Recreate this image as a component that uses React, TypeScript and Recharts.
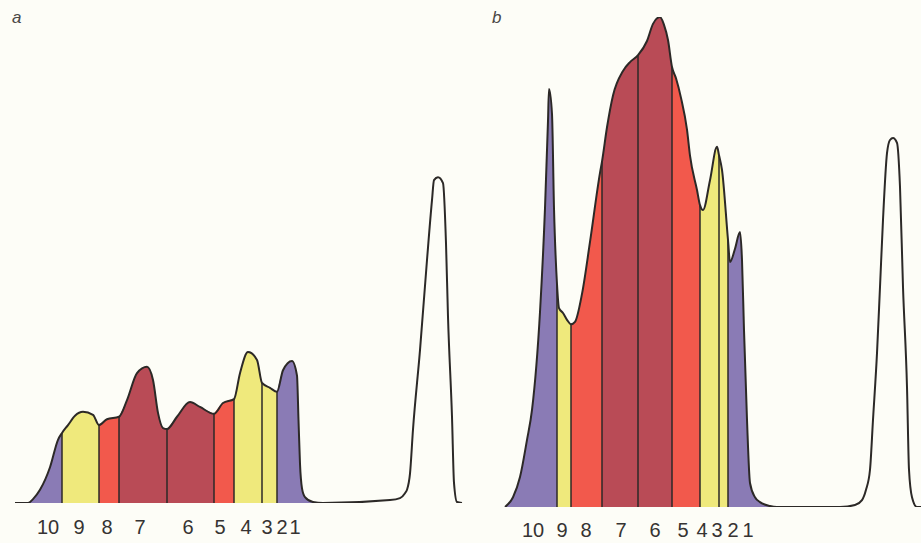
import { ComposedChart, Area, Line, XAxis, YAxis, ReferenceLine } from 'recharts';

// elution profiles (x: elution volume, y: relative absorbance)
const volumeA = [5, 18, 23, 30, 40, 48, 52, 58, 65, 73, 83, 89, 97, 109, 117, 127, 137, 143, 148, 153, 157, 167, 180, 190, 204, 213, 224, 230, 238, 247, 252, 260, 267, 273, 282, 287, 288.5, 290, 292, 295, 303, 313, 380, 390, 395, 397, 400, 403, 410, 417, 422, 424, 428, 433, 436, 438, 442, 444, 447, 452];
const absorbanceA = [0, 0, 0.8, 2.7, 7.3, 12.9, 14.3, 15.9, 17.8, 18.6, 18.0, 15.9, 17.1, 17.6, 21.0, 26.5, 27.8, 25.1, 18.4, 15.3, 15.1, 17.6, 20.6, 19.6, 18.2, 20.4, 21.2, 26.5, 30.8, 29.2, 24.5, 23.5, 22.7, 27.1, 29.0, 26.0, 17, 8, 3, 1.2, 0.2, 0, 0.6, 1.0, 2.0, 2.7, 6, 15, 31.2, 49.6, 61.8, 65.9, 66.5, 65.3, 53, 38.0, 17.6, 4.1, 0.2, 0];
const cutsA = [18, 52, 89, 109, 157, 204, 224, 252, 267, 313];
const labelPosA = [38, 69, 97, 130, 178, 210, 236, 257, 272, 285];

const volumeB = [5, 13, 20, 27, 32, 40, 45, 48, 49, 52, 54, 57, 59, 63, 67, 71, 75, 82, 90, 100, 102, 107, 113, 123, 130, 138, 147, 153, 160, 164, 168, 172, 176, 181, 187, 190, 197, 200, 203, 210, 217, 219, 222, 228, 230, 235, 240, 242, 244, 247, 250, 255, 260, 270, 277, 340, 355, 362, 366, 370, 373, 377, 380, 383, 387, 390, 393, 397, 400, 403, 407, 409, 412, 417, 421];
const absorbanceB = [0, 2.0, 6.1, 13.7, 19.8, 39.8, 61.0, 78.8, 85.3, 80.2, 61.0, 45.5, 40.6, 39.6, 38.2, 37.3, 37.8, 43.5, 54.1, 68.2, 70.5, 77.5, 84.0, 89.0, 90.8, 92.2, 95.1, 98.6, 100, 98.4, 95.3, 89.8, 87.5, 83.5, 77, 71.7, 64.7, 61.6, 60.6, 66.7, 73.5, 71.8, 68.8, 54.5, 50.0, 52.7, 56.1, 50.4, 36.1, 17.8, 4.9, 2.0, 1.0, 0.2, 0, 0, 0.4, 1.4, 3.5, 7.6, 17.8, 31.4, 44.9, 58.6, 72.2, 74.9, 75.3, 74.3, 65.3, 44.9, 24.5, 7.6, 2.0, 0, 0];
const cutsB = [5, 57, 71, 102, 138, 172, 200, 219, 228, 277];
const labelPosB = [33, 62, 86, 121, 155, 183, 202, 217, 233, 248];

const fractionLabels = ['10', '9', '8', '7', '6', '5', '4', '3', '2', '1'];

const PURPLE = '#8a7bb5';
const YELLOW = '#efe97c';
const RED = '#f2594c';
const MAROON = '#b94b56';
const segmentColors = [PURPLE, YELLOW, RED, MAROON, MAROON, RED, YELLOW, YELLOW, PURPLE];

const INK = '#2c2927';

function buildRows(volume: number[], absorbance: number[], cuts: number[]) {
    return volume.map((x, i) => {
        const row: Record<string, number | null> = { x, y: absorbance[i] };
        for (let s = 0; s < cuts.length - 1; s++) {
            row[`s${s}`] = x >= cuts[s] && x <= cuts[s + 1] ? absorbance[i] : null;
        }
        return row;
    });
}

interface PanelProps {
    volume: number[];
    absorbance: number[];
    cuts: number[];
    labelPos: number[];
    left: number;
    width: number;
    top: number;
    axisHeight: number;
    tickMargin: number;
}

function Panel({ volume, absorbance, cuts, labelPos, left, width, top, axisHeight, tickMargin }: PanelProps) {
    const rows = buildRows(volume, absorbance, cuts);
    const boundaries = cuts.slice(1, -1).map((c) => ({ x: c, y: absorbance[volume.indexOf(c)] }));

    return (
        <div style={{ position: 'absolute', left, top: 0 }}>
            <ComposedChart
                width={width}
                height={543}
                data={rows}
                margin={{ top, right: 0, bottom: 0, left: 0 }}
            >
                <XAxis
                    type="number"
                    dataKey="x"
                    domain={[0, width]}
                    allowDataOverflow
                    ticks={labelPos}
                    interval={0}
                    tickFormatter={(v) => fractionLabels[labelPos.indexOf(v)]}
                    axisLine={false}
                    tickLine={false}
                    tickSize={0}
                    tickMargin={tickMargin}
                    height={axisHeight}
                    tick={{ fontSize: 20, fill: '#363332', fontFamily: '"Liberation Sans", Arial, sans-serif' }}
                />
                <YAxis hide domain={[0, 100]} allowDataOverflow />
                {segmentColors.map((c, i) => (
                    <Area
                        key={`seg-${i}`}
                        type="monotone"
                        dataKey={`s${i}`}
                        fill={c}
                        fillOpacity={1}
                        stroke="none"
                        connectNulls={false}
                        isAnimationActive={false}
                    />
                ))}
                {boundaries.map((b, i) => (
                    <ReferenceLine
                        key={`cut-${i}`}
                        segment={[{ x: b.x, y: 0 }, { x: b.x, y: b.y }]}
                        stroke={INK}
                        strokeWidth={1.5}
                    />
                ))}
                <Line
                    type="monotone"
                    dataKey="y"
                    stroke={INK}
                    strokeWidth={2}
                    dot={false}
                    isAnimationActive={false}
                />
            </ComposedChart>
        </div>
    );
}

const letterStyle: React.CSSProperties = {
    position: 'absolute',
    top: 8,
    fontFamily: '"Liberation Sans", Arial, sans-serif',
    fontStyle: 'italic',
    fontSize: 17,
    color: '#4a4745',
};

export default function App() {
    return (
        <div style={{ position: 'absolute', left: 0, top: 0, width: 921, height: 543, background: '#fdfdf7', overflow: 'hidden' }}>
            <span style={{ ...letterStyle, left: 12 }}>a</span>
            <span style={{ ...letterStyle, left: 492 }}>b</span>
            <Panel
                volume={volumeA}
                absorbance={absorbanceA}
                cuts={cutsA}
                labelPos={labelPosA}
                left={10}
                width={460}
                top={13}
                axisHeight={40}
                tickMargin={17}
            />
            <Panel
                volume={volumeB}
                absorbance={absorbanceB}
                cuts={cutsB}
                labelPos={labelPosB}
                left={500}
                width={421}
                top={17}
                axisHeight={36}
                tickMargin={16}
            />
        </div>
    );
}
